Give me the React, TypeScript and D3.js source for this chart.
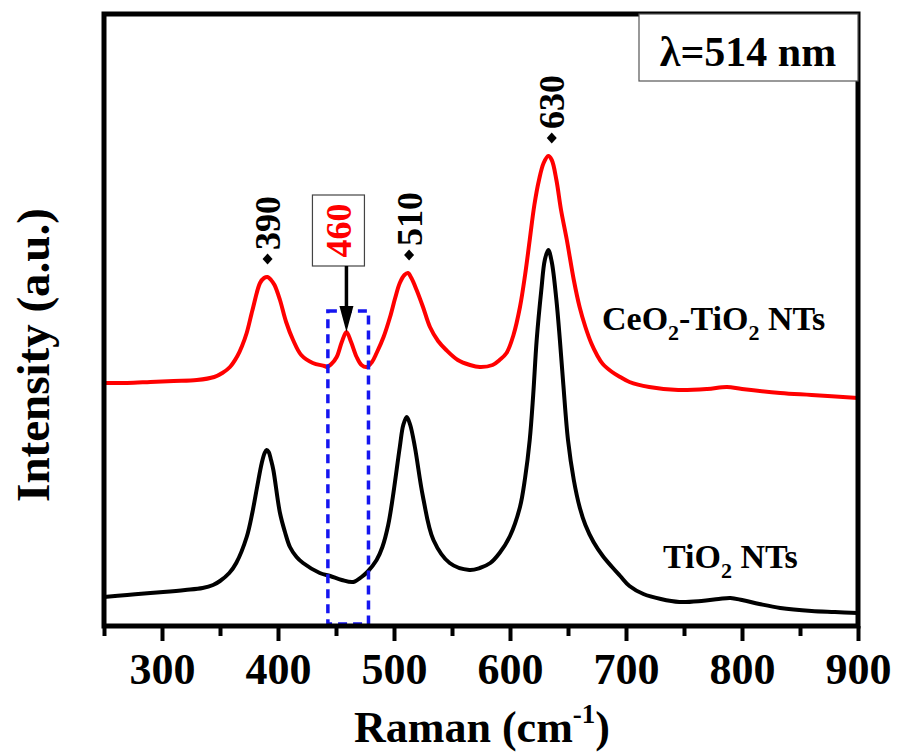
import React, { useRef, useEffect } from 'react';
import * as d3 from 'd3';

// TiO2 NTs spectrum (Raman shift, intensity a.u.)
const tio2Shift = [
  250, 270, 290, 301, 320, 335, 344, 350, 358, 364, 373, 378, 382, 386, 388.5, 390.2, 392, 394, 396,
  401.7, 406, 410.3, 416, 421.6, 436, 445, 455, 465, 472, 477, 485, 490, 495, 499, 505, 508, 511,
  514, 518, 525, 534, 548, 565, 574, 583, 591, 600, 608.6, 613, 617, 620, 623, 627, 630, 633, 636,
  640, 643, 646, 650, 655, 660, 665, 672, 680, 688, 695, 703, 715, 730, 746, 765, 780, 790, 800, 815,
  833, 860, 880, 900,
];
const tio2Intensity = [
  29, 31, 33, 34, 36, 38, 41, 45, 53, 63, 89, 114, 139, 163, 173, 176, 174, 166, 156,
  113, 94, 79, 69, 63, 53, 50, 46, 44, 49, 54, 66, 79, 101, 129, 179, 201, 209,
  201, 179, 129, 86, 63, 56, 58, 63, 73, 90, 119, 148, 186, 231, 286, 336, 366, 376, 364,
  326, 286, 241, 186, 146, 119, 101, 84, 70, 59, 50, 40, 32, 27, 24, 25, 27, 28, 26, 22,
  18, 15, 14, 13,
];

// CeO2-TiO2 NTs spectrum
const ceo2Shift = [
  250, 270, 290, 310, 330, 345, 352, 358.6, 365, 369, 373, 378, 384.5, 388, 391, 394, 397, 401.7,
  407, 413, 420, 430, 440, 442, 446, 450.6, 455, 459, 463, 467.8, 472, 476.5, 481, 485, 491, 496.6,
  501, 505, 509, 512, 515, 519.5, 525, 531, 538, 545, 555, 565.5, 574, 585, 591, 597, 603, 608.6,
  613, 617, 621, 625, 629, 633, 636, 640, 644, 649, 655, 660, 665, 670, 675, 680, 688, 695, 703,
  720, 745, 770, 787, 800, 833, 860, 900,
];
const ceo2Intensity = [
  243, 243, 244, 245, 246, 249, 253, 259, 270, 280, 293, 316, 343, 348, 349, 346, 341, 326,
  304, 286, 271, 263, 260, 259, 262, 269, 284, 294, 284, 269, 261, 259, 264, 273, 289, 309,
  328, 343, 351, 353, 348, 336, 319, 299, 285, 276, 266, 261, 259, 261, 266, 273, 291, 319,
  351, 386, 421, 446, 463, 470, 466, 446, 416, 386, 346, 319, 299, 283, 271, 262, 254, 249, 244,
  239, 236, 237, 239, 237, 233, 231, 228,
];

const xTicks = [300, 400, 500, 600, 700, 800, 900];
const xMinorTicks = [250, 350, 450, 550, 650, 750, 850];

const peakLabels = ['390', '510', '630'];
const peakShift = [391, 513, 636];
const peakHeight = [349, 353, 470];

const newPeakLabel = '460';
const newPeakShift = 459;
const newPeakHeight = 294;

const highlightRange = [443, 478];
const highlightTop = 315;

const FONT = "'Liberation Serif', 'Times New Roman', serif";

const App = () => {
  const ref = useRef<SVGSVGElement>(null);

  useEffect(() => {
    const svg = d3.select(ref.current);
    svg.selectAll('*').remove();

    const left = 104, right = 858, top = 14, bottom = 626;

    const x = d3.scaleLinear().domain([250, 900]).range([left, right]);
    const y = d3.scaleLinear().domain([0, 612]).range([bottom, top]);

    svg.append('defs').append('clipPath').attr('id', 'plot-clip')
      .append('rect')
      .attr('x', left).attr('y', top)
      .attr('width', right - left).attr('height', bottom - top);

    const line = d3.line<[number, number]>()
      .x(d => x(d[0]))
      .y(d => y(d[1]))
      .curve(d3.curveCatmullRom.alpha(0.5));

    const curves = svg.append('g').attr('clip-path', 'url(#plot-clip)');

    curves.append('path')
      .datum(tio2Shift.map((s, i) => [s, tio2Intensity[i]] as [number, number]))
      .attr('d', line)
      .attr('fill', 'none')
      .attr('stroke', '#000')
      .attr('stroke-width', 4)
      .attr('stroke-linejoin', 'round');

    curves.append('path')
      .datum(ceo2Shift.map((s, i) => [s, ceo2Intensity[i]] as [number, number]))
      .attr('d', line)
      .attr('fill', 'none')
      .attr('stroke', '#f00')
      .attr('stroke-width', 4)
      .attr('stroke-linejoin', 'round');

    // Dashed highlight around the 460 band.
    svg.append('rect')
      .attr('x', x(highlightRange[0]))
      .attr('y', y(highlightTop))
      .attr('width', x(highlightRange[1]) - x(highlightRange[0]))
      .attr('height', y(0) - y(highlightTop) - 2)
      .attr('fill', 'none')
      .attr('stroke', '#1515f0')
      .attr('stroke-width', 3.5)
      .attr('stroke-dasharray', '9,6');

    // Bottom axis ticks.
    const axis = svg.append('g')
      .attr('transform', `translate(0, ${bottom})`)
      .call(d3.axisBottom(x).tickValues(xTicks).tickSize(15).tickPadding(12).tickFormat(d3.format('d')));
    axis.select('.domain').remove();
    axis.selectAll('line').attr('stroke', '#000').attr('stroke-width', 4);
    axis.selectAll('text')
      .attr('fill', '#000')
      .style('font-family', FONT)
      .style('font-weight', 'bold')
      .style('font-size', '44px');

    const minor = svg.append('g')
      .attr('transform', `translate(0, ${bottom})`)
      .call(d3.axisBottom(x).tickValues(xMinorTicks).tickSize(10).tickFormat(() => ''));
    minor.select('.domain').remove();
    minor.selectAll('line').attr('stroke', '#000').attr('stroke-width', 4);

    // Frame.
    svg.append('rect')
      .attr('x', left).attr('y', top)
      .attr('width', right - left).attr('height', bottom - top)
      .attr('fill', 'none')
      .attr('stroke', '#000')
      .attr('stroke-width', 5);

    // Excitation wavelength box.
    svg.append('rect')
      .attr('x', 639).attr('y', top)
      .attr('width', right - 639).attr('height', 67)
      .attr('fill', '#fff')
      .attr('stroke', '#555')
      .attr('stroke-width', 1.2);
    svg.append('text')
      .attr('x', 748).attr('y', 66)
      .attr('text-anchor', 'middle')
      .style('font-family', FONT)
      .style('font-weight', 'bold')
      .style('font-size', '42px')
      .text('λ=514 nm');

    // Peak markers and labels.
    peakLabels.forEach((label, i) => {
      const px = x(peakShift[i]);
      const py = y(peakHeight[i]) - 18;
      svg.append('path')
        .attr('d', `M${px},${py - 5.5}L${px + 5},${py}L${px},${py + 5.5}L${px - 5},${py}Z`)
        .attr('fill', '#000');
      svg.append('text')
        .attr('transform', `translate(${px}, ${py - 9}) rotate(-90)`)
        .attr('dy', '0.35em')
        .style('font-family', FONT)
        .style('font-weight', 'bold')
        .style('font-size', '36px')
        .text(label);
    });

    // New 460 peak: boxed label with arrow.
    const ax = x(newPeakShift);
    const tipY = y(newPeakHeight);
    const boxCx = ax - 8;
    const boxBottom = tipY - 66;
    svg.append('rect')
      .attr('x', boxCx - 26).attr('y', boxBottom - 71)
      .attr('width', 52).attr('height', 71)
      .attr('fill', '#fff')
      .attr('stroke', '#444')
      .attr('stroke-width', 1.2);
    svg.append('text')
      .attr('transform', `translate(${boxCx}, ${boxBottom - 35.5}) rotate(-90)`)
      .attr('text-anchor', 'middle')
      .attr('dy', '0.35em')
      .attr('fill', '#f00')
      .style('font-family', FONT)
      .style('font-weight', 'bold')
      .style('font-size', '36px')
      .text(newPeakLabel);
    svg.append('line')
      .attr('x1', ax).attr('x2', ax)
      .attr('y1', boxBottom).attr('y2', tipY - 22)
      .attr('stroke', '#000')
      .attr('stroke-width', 3.5);
    svg.append('path')
      .attr('d', `M${ax - 7},${tipY - 26}L${ax + 7},${tipY - 26}L${ax},${tipY}Z`)
      .attr('fill', '#000');

    // Series labels.
    const seriesLabel = (sx: number, sy: number, parts: [string, boolean][]) => {
      const t = svg.append('text')
        .attr('x', sx).attr('y', sy)
        .style('font-family', FONT)
        .style('font-weight', 'bold')
        .style('font-size', '34px');
      let shifted = false;
      parts.forEach(([s, sub]) => {
        const ts = t.append('tspan').text(s);
        if (sub && !shifted) { ts.attr('dy', 10).style('font-size', '22px'); shifted = true; }
        else if (!sub && shifted) { ts.attr('dy', -10); shifted = false; }
      });
    };
    seriesLabel(602, 330, [['CeO', false], ['2', true], ['-TiO', false], ['2', true], [' NTs', false]]);
    seriesLabel(663, 568, [['TiO', false], ['2', true], [' NTs', false]]);

    // Axis titles.
    const xt = svg.append('text')
      .attr('x', 482).attr('y', 742)
      .attr('text-anchor', 'middle')
      .style('font-family', FONT)
      .style('font-weight', 'bold')
      .style('font-size', '44px');
    xt.append('tspan').text('Raman (cm');
    xt.append('tspan').attr('dy', -19).style('font-size', '27px').text('-1');
    xt.append('tspan').attr('dy', 19).text(')');

    svg.append('text')
      .attr('transform', 'translate(49, 355) rotate(-90)')
      .attr('text-anchor', 'middle')
      .style('font-family', FONT)
      .style('font-weight', 'bold')
      .style('font-size', '47px')
      .text('Intensity (a.u.)');
  }, []);

  return (
    <svg
      ref={ref}
      width={899}
      height={754}
      style={{ position: 'absolute', left: 0, top: 0, background: '#fff' }}
    />
  );
};

export default App;
